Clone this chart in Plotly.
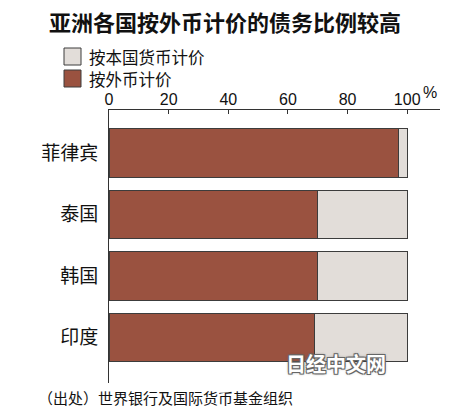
import plotly.graph_objects as go

# Share of debt by currency denomination (%)
countries = ["菲律宾", "泰国", "韩国", "印度"]
foreign_share = [97, 70, 70, 69]      # 按外币计价
domestic_share = [3, 30, 30, 31]      # 按本国货币计价
x_ticks = [0, 20, 40, 60, 80, 100]

BROWN = "#9a5240"
LIGHT = "#e2ddd9"
EDGE = "#3c3c3c"
CJK = "Noto Sans CJK SC"

W, H = 450, 416
L, R, T, B = 109, 10, 110, 33
PW, PH = W - L - R, H - T - B


def px(x):
    return (x - L) / PW


def py(y):
    return (H - B - y) / PH


fig = go.Figure()
fig.add_trace(go.Bar(
    y=countries, x=foreign_share, orientation="h", name="按外币计价",
    marker=dict(color=BROWN, line=dict(color=EDGE, width=1)), width=0.79,
    hoverinfo="x+y",
))
fig.add_trace(go.Bar(
    y=countries, x=domestic_share, orientation="h", name="按本国货币计价",
    marker=dict(color=LIGHT, line=dict(color=EDGE, width=1)), width=0.79,
    hoverinfo="x+y",
))

# legend swatches and labels
shapes = []
annotations = []
for i, (label, color) in enumerate([("按本国货币计价", LIGHT), ("按外币计价", BROWN)]):
    top = 48 + i * 22
    shapes.append(dict(
        type="rect", xref="paper", yref="paper",
        x0=px(64), x1=px(81), y0=py(top + 17), y1=py(top),
        fillcolor=color, line=dict(color=EDGE, width=1),
    ))
    annotations.append(dict(
        text=label, xref="paper", yref="paper", x=px(87), y=py(top + 9),
        xanchor="left", yanchor="middle", showarrow=False,
        font=dict(family=CJK, size=16.5, color="#111"),
    ))

# unit label next to the top axis
annotations.append(dict(
    text="%", xref="paper", yref="paper", x=px(421), y=py(92),
    xanchor="left", yanchor="middle", showarrow=False,
    font=dict(family="Liberation Sans", size=16, color="#111"),
))

# source line
annotations.append(dict(
    text="（出处）世界银行及国际货币基金组织", xref="paper", yref="paper",
    x=px(36), y=py(397), xanchor="left", yanchor="middle", showarrow=False,
    font=dict(family=CJK, size=15, color="#111"),
))

# publisher mark
annotations.append(dict(
    text="<b>日经中文网</b>", xref="paper", yref="paper",
    x=px(336), y=py(363), xanchor="center", yanchor="middle", showarrow=False,
    font=dict(family=CJK, size=20, color="#ffffff",
              shadow="1px 1px 0 #666, -1px -1px 0 #666, 1px -1px 0 #666, -1px 1px 0 #666, 0 0 3px #555"),
))

fig.update_layout(
    width=W, height=H,
    margin=dict(l=L, r=R, t=T, b=B),
    paper_bgcolor="white", plot_bgcolor="white",
    barmode="stack", showlegend=False,
    title=dict(
        text="<b>亚洲各国按外币计价的债务比例较高</b>",
        x=0.5, xanchor="center", y=1 - 23 / H, yanchor="middle",
        font=dict(family=CJK, size=22, color="#111"),
    ),
    xaxis=dict(
        side="top", range=[0, 111], tickvals=x_ticks,
        ticktext=[str(v) for v in x_ticks],
        showgrid=False, zeroline=False,
        showline=True, linecolor="#333", linewidth=1,
        ticks="inside", ticklen=4, tickcolor="#333", ticklabelstandoff=-2,
        tickfont=dict(family="Liberation Sans Narrow, Liberation Sans", size=16, color="#111"),
    ),
    yaxis=dict(
        categoryorder="array", categoryarray=countries,
        range=[3.74, -0.70],
        showgrid=False, zeroline=False,
        showline=True, linecolor="#333", linewidth=1,
        ticks="", ticklabelstandoff=6,
        tickfont=dict(family=CJK, size=19, color="#111"),
    ),
    shapes=shapes, annotations=annotations,
)

fig.write_html("out.html")
